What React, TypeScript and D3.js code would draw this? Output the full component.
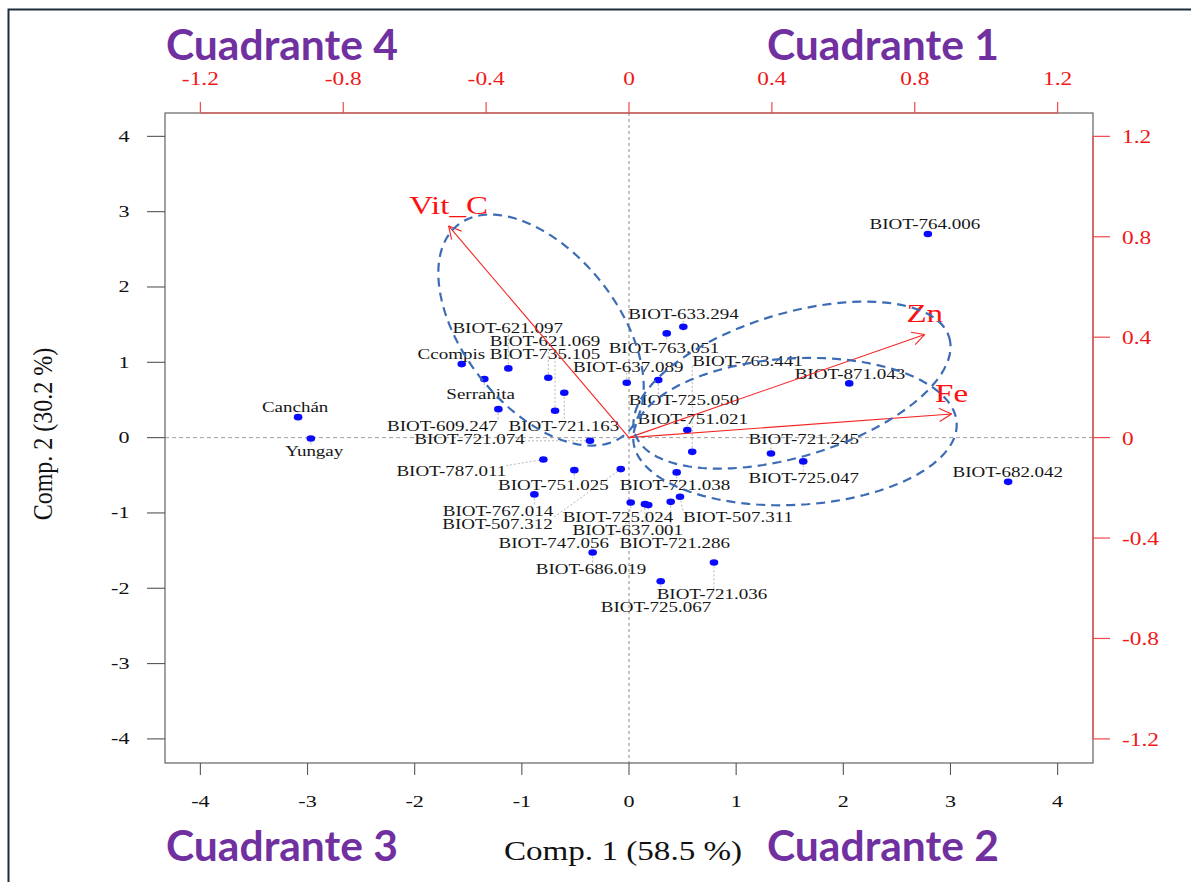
import React, { useEffect, useRef } from "react";
import * as d3 from "d3";

const W = 1191;
const H = 882;

// ---- observations (PCA scores) ----
const pointNames = [
  "Canchán", "Yungay", "Ccompis", "Serranita", "BIOT-621.097", "BIOT-621.069",
  "BIOT-735.105", "BIOT-609.247", "BIOT-721.163", "BIOT-721.074", "BIOT-787.011",
  "BIOT-751.025", "BIOT-721.038", "BIOT-767.014", "BIOT-507.312", "BIOT-725.024",
  "BIOT-507.311", "BIOT-637.001", "BIOT-747.056", "BIOT-721.286", "BIOT-686.019",
  "BIOT-721.036", "BIOT-725.067", "BIOT-637.089", "BIOT-725.050", "BIOT-763.441",
  "BIOT-751.021", "BIOT-763.051", "BIOT-633.294", "BIOT-871.043", "BIOT-721.245",
  "BIOT-725.047", "BIOT-682.042", "BIOT-764.006",
];
const comp1 = [
  -3.088, -2.969, -1.561, -1.35, -1.126, -0.753, -0.69, -1.219, -0.604, -0.364, -0.799,
  -0.51, 0.445, -0.883, -0.077, 0.016, 0.476, 0.149, 0.18, 0.389, -0.339,
  0.793, 0.296, -0.021, 0.273, 0.59, 0.544, 0.352, 0.507, 2.055, 1.325,
  1.626, 3.538, 2.789,
];
const comp2 = [
  0.272, -0.011, 0.976, 0.777, 0.919, 0.794, 0.356, 0.378, 0.595, -0.042, -0.29,
  -0.432, -0.462, -0.754, -0.418, -0.861, -0.786, -0.883, -0.896, -0.853, -1.525,
  -1.657, -1.906, 0.728, 0.764, -0.189, 0.1, 1.384, 1.471, 0.72, -0.21,
  -0.316, -0.587, 2.703,
];
// label anchor (in score units) after repelling
const labelComp1 = [
  -3.116, -2.937, -1.658, -1.385, -1.132, -0.784, -0.784, -1.742, -0.608, -1.488, -1.658,
  -0.706, 0.429, -1.222, -1.227, -0.103, 1.017, -0.011, -0.702, 0.426, -0.354,
  0.774, 0.252, -0.007, 0.513, 1.105, 0.595, 0.326, 0.508, 2.062, 1.631,
  1.631, 3.535, 2.761,
];
const labelComp2 = [
  0.405, -0.17, 1.113, 0.587, 1.453, 1.286, 1.118, 0.157, 0.153, -0.016, -0.445,
  -0.622, -0.622, -0.972, -1.139, -1.052, -1.052, -1.219, -1.397, -1.397, -1.737,
  -2.078, -2.247, 0.94, 0.507, 1.02, 0.246, 1.193, 1.64, 0.853, -0.011,
  -0.529, -0.454, 2.835,
];

// ---- variables (loadings) ----
const varNames = ["Vit_C", "Zn", "Fe"];
const load1 = [-0.505, 0.828, 0.903];
const load2 = [0.843, 0.411, 0.094];

// ---- group ellipses (centre and conjugate half-axes, score units) ----
const ellipseCx = [-0.821, 1.521, 1.549];
const ellipseCy = [1.428, 0.697, 0.08];
const ellipseA = [[0.775, -1.397], [1.467, 0.635], [1.509, 0.113]];
const ellipseB = [[-0.564, -0.634], [0.194, -0.909], [0.036, -0.972]];

// ---- axes ----
const scoreTicks = [-4, -3, -2, -1, 0, 1, 2, 3, 4];
const loadTicks = [-1.2, -0.8, -0.4, 0, 0.4, 0.8, 1.2];
const xTitle = "Comp. 1 (58.5 %)";
const yTitle = "Comp. 2 (30.2 %)";
const quadrantLabels = ["Cuadrante 4", "Cuadrante 1", "Cuadrante 3", "Cuadrante 2"];

const SERIF = "'Liberation Serif', 'Times New Roman', 'DejaVu Serif', serif";
const SX = 1.25;

export default function App() {
  const ref = useRef<SVGSVGElement>(null);

  useEffect(() => {
    const svg = d3.select(ref.current as SVGSVGElement);
    svg.selectAll("*").remove();

    const left = 165, right = 1093, top = 113, bottom = 763;
    const x = d3.scaleLinear().domain([-4.33, 4.33]).range([left, right]);
    const y = d3.scaleLinear().domain([-4.32, 4.31]).range([bottom, top]);
    const xL = d3.scaleLinear().domain([-1.299, 1.299]).range([left, right]);
    const yL = d3.scaleLinear().domain([-1.296, 1.293]).range([bottom, top]);

    svg.append("rect").attr("width", W).attr("height", H).attr("fill", "#ffffff");

    // outer frame
    svg.append("path")
      .attr("d", `M8.5,${H} V9.5 H${W}`)
      .attr("fill", "none").attr("stroke", "#1f2c3a").attr("stroke-width", 2);

    // quadrant titles
    const qPos = [[166, 60], [767, 60], [166, 861], [767, 861]];
    quadrantLabels.forEach((t, i) => {
      svg.append("text")
        .attr("x", qPos[i][0]).attr("y", qPos[i][1])
        .attr("font-family", "Lato, 'Open Sans', sans-serif")
        .attr("font-weight", 700).attr("font-size", 42)
        .attr("textLength", 232).attr("lengthAdjust", "spacingAndGlyphs")
        .attr("fill", "#7030a0").text(t);
    });

    // zero reference lines
    svg.append("line")
      .attr("x1", left).attr("x2", right).attr("y1", y(0)).attr("y2", y(0))
      .attr("stroke", "#a0a0a0").attr("stroke-dasharray", "4,3").attr("stroke-width", 1);
    svg.append("line")
      .attr("x1", x(0)).attr("x2", x(0)).attr("y1", top).attr("y2", bottom)
      .attr("stroke", "#8a8a8a").attr("stroke-dasharray", "3,3").attr("stroke-width", 1);

    const gLines = svg.append("g");
    const gDots = svg.append("g");
    const gLabels = svg.append("g");

    pointNames.forEach((name, i) => {
      gDots.append("ellipse")
        .attr("cx", x(comp1[i])).attr("cy", y(comp2[i]))
        .attr("rx", 4.3).attr("ry", 3.3).attr("fill", "#0a0aff");
      const tx = x(labelComp1[i]);
      const ty = y(labelComp2[i]);
      const t = gLabels.append("text")
        .attr("transform", `translate(${tx},${ty}) scale(${SX},1)`)
        .attr("x", 0).attr("y", 5.2)
        .attr("text-anchor", "middle")
        .attr("font-family", SERIF).attr("font-size", 15.2)
        .attr("fill", "#161616").text(name);
      const bb = (t.node() as SVGTextElement).getBBox();
      const bl = tx + SX * bb.x;
      const br = tx + SX * (bb.x + bb.width);
      const bt = ty - 5.5;
      const bbm = ty + 5.5;
      const px = x(comp1[i]);
      const py = y(comp2[i]);
      const cx = Math.max(bl, Math.min(br, px));
      const cy = Math.max(bt, Math.min(bbm, py));
      const d = Math.hypot(cx - px, cy - py);
      if (d > 4) {
        gLines.append("line")
          .attr("x1", px).attr("y1", py).attr("x2", cx).attr("y2", cy)
          .attr("stroke", "#b8b8b8").attr("stroke-width", 1)
          .attr("stroke-dasharray", "2,2");
      }
    });

    // loading arrows
    const red = "#f52424";
    varNames.forEach((v, i) => {
      const x0 = xL(0), y0 = yL(0);
      const x1 = xL(load1[i]), y1 = yL(load2[i]);
      svg.append("line")
        .attr("x1", x0).attr("y1", y0).attr("x2", x1).attr("y2", y1)
        .attr("stroke", red).attr("stroke-width", 1.1);
      const ang = Math.atan2(y1 - y0, x1 - x0);
      const len = 14, spread = (28 * Math.PI) / 180;
      [-spread, spread].forEach((s) => {
        svg.append("line")
          .attr("x1", x1).attr("y1", y1)
          .attr("x2", x1 - len * Math.cos(ang + s))
          .attr("y2", y1 - len * Math.sin(ang + s))
          .attr("stroke", red).attr("stroke-width", 1.1);
      });
      svg.append("text")
        .attr("transform", `translate(${x1},${y1 - 12}) scale(1.3,1)`)
        .attr("text-anchor", "middle")
        .attr("font-family", SERIF).attr("font-size", 25.4)
        .attr("fill", "#ff1010").text(v);
    });

    // group ellipses
    const steps = d3.range(0, 121).map((k) => (k / 120) * Math.PI * 2);
    const line = d3.line<[number, number]>().x((d) => d[0]).y((d) => d[1]);
    ellipseCx.forEach((c, i) => {
      const pts: [number, number][] = steps.map((t) => [
        x(c + ellipseA[i][0] * Math.cos(t) + ellipseB[i][0] * Math.sin(t)),
        y(ellipseCy[i] + ellipseA[i][1] * Math.cos(t) + ellipseB[i][1] * Math.sin(t)),
      ]);
      svg.append("path")
        .attr("d", line(pts) as string)
        .attr("fill", "none").attr("stroke", "#3d6cb5")
        .attr("stroke-width", 2.2).attr("stroke-dasharray", "9,6");
    });

    // plot box
    svg.append("rect")
      .attr("x", left).attr("y", top).attr("width", right - left).attr("height", bottom - top)
      .attr("fill", "none").attr("stroke", "#555").attr("stroke-width", 1.1);

    // bottom axis
    scoreTicks.forEach((v) => {
      svg.append("line")
        .attr("x1", x(v)).attr("x2", x(v)).attr("y1", bottom).attr("y2", bottom + 12)
        .attr("stroke", "#555").attr("stroke-width", 1.1);
      svg.append("text")
        .attr("transform", `translate(${x(v)},806.5) scale(1.3,1)`)
        .attr("text-anchor", "middle")
        .attr("font-family", SERIF).attr("font-size", 17)
        .attr("fill", "#111").text(String(v));
    });
    // left axis
    scoreTicks.forEach((v) => {
      svg.append("line")
        .attr("x1", left - 18).attr("x2", left).attr("y1", y(v)).attr("y2", y(v))
        .attr("stroke", "#555").attr("stroke-width", 1.1);
      svg.append("text")
        .attr("transform", `translate(129.5,${y(v) + 5.5}) scale(1.3,1)`)
        .attr("text-anchor", "end")
        .attr("font-family", SERIF).attr("font-size", 17)
        .attr("fill", "#111").text(String(v));
    });

    // top loading axis
    const axRed = "#f04848";
    svg.append("line")
      .attr("x1", xL(-1.2)).attr("x2", xL(1.2)).attr("y1", top).attr("y2", top)
      .attr("stroke", axRed).attr("stroke-width", 1.2);
    loadTicks.forEach((v) => {
      svg.append("line")
        .attr("x1", xL(v)).attr("x2", xL(v)).attr("y1", top).attr("y2", top - 11)
        .attr("stroke", axRed).attr("stroke-width", 1.2);
      svg.append("text")
        .attr("transform", `translate(${xL(v)},85) scale(1.3,1)`)
        .attr("text-anchor", "middle")
        .attr("font-family", SERIF).attr("font-size", 18)
        .attr("fill", "#f01818").text(String(v));
    });
    // right loading axis
    svg.append("line")
      .attr("x1", right).attr("x2", right).attr("y1", yL(1.2)).attr("y2", yL(-1.2))
      .attr("stroke", axRed).attr("stroke-width", 1.2);
    loadTicks.forEach((v) => {
      svg.append("line")
        .attr("x1", right).attr("x2", right + 17).attr("y1", yL(v)).attr("y2", yL(v))
        .attr("stroke", axRed).attr("stroke-width", 1.2);
      svg.append("text")
        .attr("transform", `translate(1122,${yL(v) + 7}) scale(1.3,1)`)
        .attr("text-anchor", "start")
        .attr("font-family", SERIF).attr("font-size", 18)
        .attr("fill", "#f01818").text(String(v));
    });

    // axis titles
    svg.append("text")
      .attr("transform", `translate(623,860) scale(1.25,1)`)
      .attr("text-anchor", "middle")
      .attr("font-family", SERIF).attr("font-size", 26.5)
      .attr("fill", "#111").text(xTitle);
    svg.append("text")
      .attr("transform", `translate(52,434) scale(1.16,1) rotate(-90)`)
      .attr("text-anchor", "middle")
      .attr("font-family", SERIF).attr("font-size", 24)
      .attr("fill", "#111").text(yTitle);
  }, []);

  return (
    <svg
      ref={ref}
      width={W}
      height={H}
      style={{ position: "absolute", left: 0, top: 0, display: "block" }}
    />
  );
}
